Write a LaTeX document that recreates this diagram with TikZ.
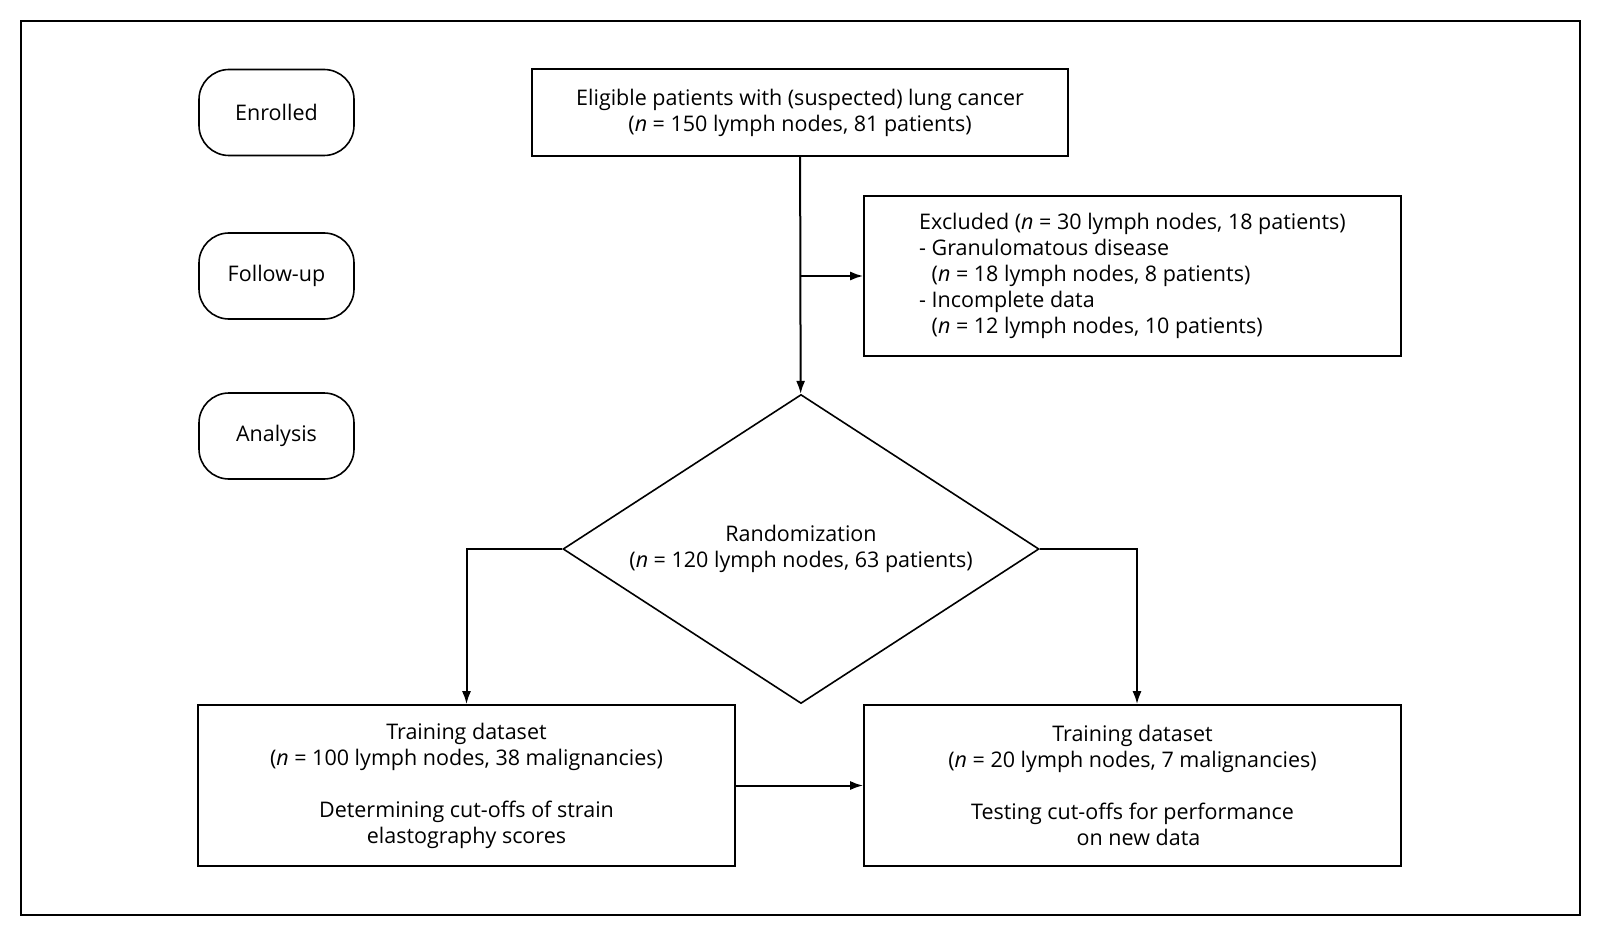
\documentclass[tikz,border=0pt]{standalone}
\usepackage{fontspec}
\setmainfont{Open Sans}
\usetikzlibrary{shapes.geometric, arrows.meta}

\begin{document}
\begin{tikzpicture}[>={Latex[length=13pt,width=9pt]}, x=1pt, y=-1pt]
        \tikzset{
            block/.style={draw, line width=1.6pt, minimum height=87pt, align=center, font=\fontsize{21.5}{26}\selectfont},
            stage/.style={draw, line width=1.6pt, rounded corners=30pt, minimum width=155pt, minimum height=86pt, font=\fontsize{21.5}{26}\selectfont},
            decision/.style={draw, diamond, aspect=1.54, line width=1.6pt, minimum width=476pt, minimum height=309pt, inner sep=0pt, align=center, font=\fontsize{21.5}{26}\selectfont},
            arrow/.style={->, line width=2pt}
        }
        \useasboundingbox (0,0) rectangle (1600,936);
        \draw[line width=1.4pt] (21,21) rectangle (1580,915);

        \node[stage] (enrolled) at (276.5, 112.5) {Enrolled};
        \node[stage] (followup) at (276.5, 276) {Follow-up};
        \node[stage] (analysis) at (276.5, 436) {Analysis};

        \node[block, minimum width=536pt] (eligible) at (800, 112.5) {Eligible patients with (suspected) lung cancer\\(\textit{n} = 150 lymph nodes, 81 patients)};
        \node[block, minimum width=537pt, minimum height=160pt, align=left, font=\fontsize{21.5}{25.8}\selectfont] (excluded) at (1132.5, 276) {Excluded (\textit{n} = 30 lymph nodes, 18 patients)\\- Granulomatous disease\\\phantom{- }(\textit{n} = 18 lymph nodes, 8 patients)\\- Incomplete data\\\phantom{- }(\textit{n} = 12 lymph nodes, 10 patients)};

        \node[decision] (random) at (801, 549) {Randomization\\(\textit{n} = 120 lymph nodes, 63 patients)};

        \node[block, minimum width=537pt, minimum height=161pt] (training) at (466.5, 785.5) {Training dataset\\(\textit{n} = 100 lymph nodes, 38 malignancies)\\[26pt]Determining cut-offs of strain\\elastography scores};
        \node[block, minimum width=537pt, minimum height=161pt] (testing) at (1132.5, 785.5) {Training dataset\\(\textit{n} = 20 lymph nodes, 7 malignancies)\\[26pt]Testing cut-offs for performance\\\hspace{12pt}on new data};

        \draw[arrow] (eligible) -- (random);
        \draw[arrow] (eligible.south |- excluded.west) -- (excluded.west);
        \draw[arrow] (random.west) -| (training.north);
        \draw[arrow] (random.east) -| ([xshift=4.5pt]testing.north);
        \draw[arrow] (training) -- (testing);
    \end{tikzpicture}
\end{document}
